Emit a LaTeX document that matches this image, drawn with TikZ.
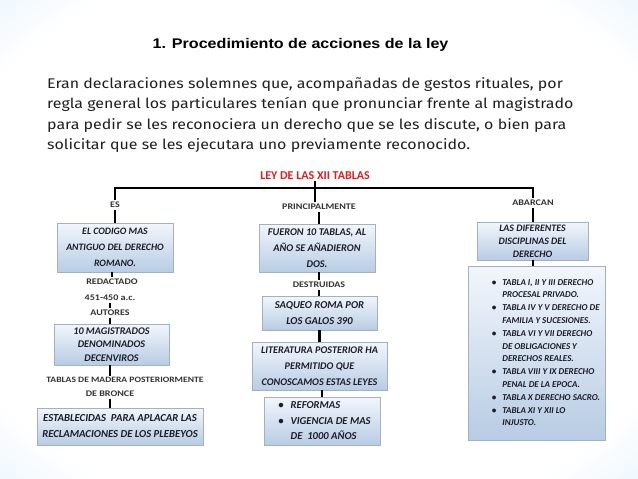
\documentclass[tikz,border=0pt]{standalone}
\usepackage{fontspec}
\setmainfont{Fira Sans}[FakeStretch=1.14]
\newfontfamily\calib{Carlito}
\newfontfamily\calibw{Carlito}[FakeStretch=1.17]
\newfontfamily\arialb{Liberation Sans}[FakeStretch=1.15]
\usetikzlibrary{positioning,shadows,calc}

\definecolor{slideblue}{RGB}{150,205,245}
\definecolor{boxtop}{RGB}{242,246,252}
\definecolor{boxbot}{RGB}{184,204,228}
\definecolor{boxline}{RGB}{165,175,190}
\definecolor{leyred}{RGB}{226,28,30}
\definecolor{inktext}{RGB}{28,28,40}

\pgfdeclareradialshading{slideglow}{\pgfpoint{0bp}{0bp}}{%
  color(0bp)=(white); color(30bp)=(white); color(50bp)=(slideblue!55); color(71bp)=(slideblue)}

\begin{document}
\begin{tikzpicture}[x=1pt, y=-1pt,
	   tablebox/.style={draw=boxline, line width=0.4pt, top color=boxtop, bottom color=boxbot,
	     drop shadow={shadow xshift=1.2pt, shadow yshift=-1.4pt, opacity=0.35},
	     font=\calib\bfseries\itshape\fontsize{10.3}{16}\selectfont, text=inktext,
	     align=center, inner sep=0pt},
	   tag/.style={font=\calibw\bfseries\fontsize{8.6}{10}\selectfont, text=black!80, inner sep=1.5pt},
	   link/.style={line width=2.8pt, black}]
	  \useasboundingbox (0,0) rectangle (638,479);
	  \fill[shading=slideglow] (0,0) rectangle (638,479);
	  \fill[white] (33,168) rectangle (612,448);
	  % heading and paragraph
	  \node[font=\arialb\bfseries\fontsize{14}{16}\selectfont] (head) at (300.5,45) {1. Procedimiento de acciones de la ley};
	  \node[anchor=north west, align=left, inner sep=0pt, text=black!88,
	        font=\fontsize{14}{20.5}\selectfont] (intro) at (47,77)
	    {Eran declaraciones solemnes que, acompañadas de gestos rituales, por\\
	     regla general los particulares tenían que pronunciar frente al magistrado\\
	     para pedir se les reconociera un derecho que se les discute, o bien para\\
	     solicitar que se les ejecutara uno previamente reconocido.};
	  % chart
	  \node[font=\calib\bfseries\fontsize{12}{14}\selectfont, text=leyred, inner sep=1pt] (ley) at (315,176) {LEY DE LAS XII TABLAS};
	  \coordinate (hl) at (115,188);
	  \coordinate (hr) at (533,188);
	  \node[tag] (es) at (115,205) {ES};
	  \node[tag] (prin) at (319,207) {PRINCIPALMENTE};
	  \node[tag] (ab) at (533,203) {ABARCAN};
	  % left column
	  \node[tablebox, minimum width=116pt, minimum height=49pt, font=\calib\bfseries\itshape\fontsize{9.8}{16}\selectfont] (codigo) at (115,247.5) {EL CODIGO MAS\\ ANTIGUO DEL DERECHO\\ ROMANO.};
	  \node[tag] (redac) at (112,282) {REDACTADO};
	  \node[tag] (fecha) at (110,298) {451-450 a.c.};
	  \node[tag] (autores) at (110,313) {AUTORES};
	  \node[tablebox, minimum width=115pt, minimum height=41pt, font=\calib\bfseries\itshape\fontsize{10.2}{13.5}\selectfont] (decen) at (111.5,344.5) {10 MAGISTRADOS\\ DENOMINADOS\\ DECENVIROS};
	  \node[tag, font=\calibw\bfseries\fontsize{8.2}{10}\selectfont] (madera) at (125,380) {TABLAS DE MADERA POSTERIORMENTE};
	  \node[tag] (bronce) at (110,394) {DE BRONCE};
	  \node[tablebox, minimum width=166pt, minimum height=37pt, font=\calib\bfseries\itshape\fontsize{10.7}{16}\selectfont] (plebe) at (120,426.5) {ESTABLECIDAS~ PARA APLACAR LAS\\ RECLAMACIONES DE LOS PLEBEYOS};
	  % middle column
	  \node[tablebox, minimum width=116pt, minimum height=48pt] (fueron) at (317,248) {FUERON 10 TABLAS, AL\\ AÑO SE AÑADIERON\\ DOS.};
	  \node[tag] (destr) at (319,285) {DESTRUIDAS};
	  \node[tablebox, minimum width=115pt, minimum height=34pt, font=\calib\bfseries\itshape\fontsize{10.6}{16}\selectfont] (saqueo) at (319.5,313) {SAQUEO ROMA POR\\ LOS GALOS 390};
	  \node[tablebox, minimum width=135pt, minimum height=48pt, font=\calib\bfseries\itshape\fontsize{10.2}{16}\selectfont] (litera) at (319.5,366) {LITERATURA POSTERIOR HA\\ PERMITIDO QUE\\ CONOSCAMOS ESTAS LEYES};
	  \node[tablebox, minimum width=116pt, minimum height=48pt, align=left] (reform) at (322,421)
	    {{\fontsize{10.6}{15.5}\selectfont\begin{tabular}{@{\hspace{5pt}}l@{\hspace{7pt}}l@{}}
	      \textbullet & REFORMAS\\ \textbullet & VIGENCIA DE MAS\\ & DE~ 1000 AÑOS\end{tabular}}};
	  % right column
	  \node[tablebox, minimum width=111pt, minimum height=38pt, font=\calib\bfseries\itshape\fontsize{9.9}{13}\selectfont] (discip) at (532.5,241) {LAS DIFERENTES\\ DISCIPLINAS DEL\\ DERECHO};
	  \node[tablebox, minimum width=137pt, minimum height=174pt, align=left] (tablas) at (536.5,353)
	    {{\fontsize{9}{12.8}\selectfont\begin{tabular}{@{\hspace{19pt}}l@{\hspace{6pt}}l@{}}
	      \textbullet & TABLA I, II Y III DERECHO\\ & PROCESAL PRIVADO.\\
	      \textbullet & TABLA IV Y V DERECHO DE\\ & FAMILIA Y SUCESIONES.\\
	      \textbullet & TABLA VI Y VII DERECHO\\ & DE OBLIGACIONES Y\\ & DERECHOS REALES.\\
	      \textbullet & TABLA VIII Y IX DERECHO\\ & PENAL DE LA EPOCA.\\
	      \textbullet & TABLA X DERECHO SACRO.\\
	      \textbullet & TABLA XI Y XII LO\\ & INJUSTO.\end{tabular}}};
	  % connectors
	  \draw[link] (ley) -- (ley |- prin.north);
	  \draw[link] (es) -- (hl) -- (hr) -- (ab);
	  \draw[link] (es) -- (es |- codigo.north);
	  \draw[link] (codigo.south -| redac) -- (redac);
	  \draw[link] (fecha) -- (autores);
	  \draw[link] (autores) -- (autores |- decen.north);
	  \draw[link] (decen.south -| autores) -- (autores |- madera.north);
	  \draw[link] (bronce) -- (bronce |- plebe.north);
	  \draw[link] (prin) -- (prin |- fueron.north);
	  \draw[link] (fueron.south -| destr) -- (destr);
	  \draw[link] (destr) -- (destr |- saqueo.north);
	  \draw[link] (saqueo) -- (litera);
	  \draw[link] (litera.south -| reform.north) -- (reform.north);
	  \draw[link] (ab) -- (ab |- discip.north);
	  \draw[link] (discip.south -| ab) -- (ab |- tablas.north);
	\end{tikzpicture}
\end{document}
